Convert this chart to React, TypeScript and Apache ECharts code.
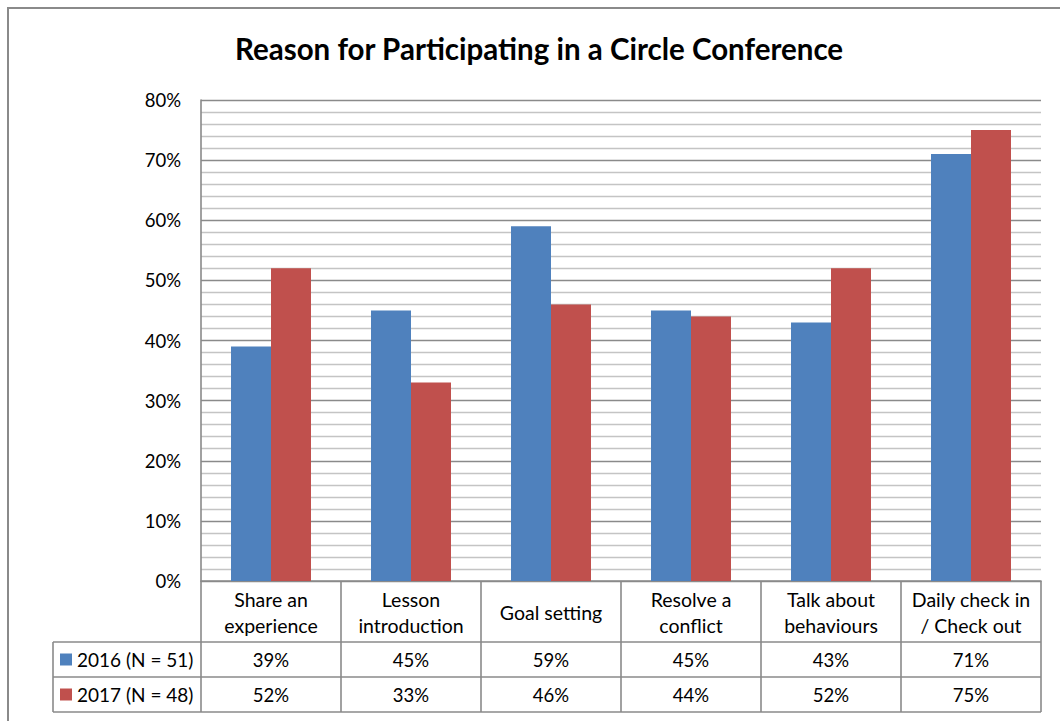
import React, { useEffect, useRef } from "react";
import * as echarts from "echarts";

const chartTitle = "Reason for Participating in a Circle Conference";
const categories = [
  "Share an\nexperience",
  "Lesson\nintroduction",
  "Goal setting",
  "Resolve a\nconflict",
  "Talk about\nbehaviours",
  "Daily check in\n/ Check out",
];
const seriesNames = ["2016 (N = 51)", "2017 (N = 48)"];
const values2016 = [39, 45, 59, 45, 43, 71];
const values2017 = [52, 33, 46, 44, 52, 75];
const colors = ["#4F81BD", "#C0504D"];

const W = 1060;
const H = 721;
const FONT = "Lato, Carlito, Calibri, 'Open Sans', sans-serif";

export default function App() {
  const ref = useRef<HTMLDivElement>(null);
  useEffect(() => {
    document.body.style.margin = "0";
    if (!ref.current) return;
    const chart = echarts.init(ref.current, undefined, { renderer: "svg" });

    const gridLeft = 201;
    const gridRight = 1041;
    const gridTop = 100;
    const gridBottom = 581;
    const rowLine1 = 642;
    const rowLine2 = 677;
    const rowLine3 = 712;
    const legendLeft = 53;
    const colW = (gridRight - gridLeft) / categories.length;
    const lineColor = "#8a8a8a";
    const lineW = 1.6;

    const graphics: any[] = [];
    graphics.push({
      type: "rect",
      shape: { x: 8, y: 8, width: 1200, height: 900 },
      style: { fill: "none", stroke: "#8a8a8a", lineWidth: 2 },
      silent: true,
    });
    [rowLine1, rowLine2, rowLine3].forEach((y) => {
      graphics.push({
        type: "line",
        shape: { x1: legendLeft, y1: y, x2: gridRight, y2: y },
        style: { stroke: lineColor, lineWidth: lineW },
        silent: true,
      });
    });
    for (let k = 0; k <= categories.length; k++) {
      const x = gridLeft + k * colW;
      graphics.push({
        type: "line",
        shape: { x1: x, y1: gridBottom, x2: x, y2: rowLine3 },
        style: { stroke: lineColor, lineWidth: lineW },
        silent: true,
      });
    }
    graphics.push({
      type: "line",
      shape: { x1: legendLeft, y1: rowLine1, x2: legendLeft, y2: rowLine3 },
      style: { stroke: lineColor, lineWidth: lineW },
      silent: true,
    });
    const rows = [values2016, values2017];
    const rowTops = [rowLine1, rowLine2];
    rows.forEach((vals, r) => {
      const cy = (rowTops[r] + (r === 0 ? rowLine2 : rowLine3)) / 2;
      graphics.push({
        type: "rect",
        shape: { x: 60, y: cy - 6, width: 12, height: 12 },
        style: { fill: colors[r] },
        silent: true,
      });
      graphics.push({
        type: "text",
        x: 77,
        y: cy,
        style: {
          text: seriesNames[r],
          font: `19px ${FONT}`,
          fill: "#000",
          textAlign: "left",
          textVerticalAlign: "middle",
        },
        silent: true,
      });
      vals.forEach((v, i) => {
        graphics.push({
          type: "text",
          x: gridLeft + (i + 0.5) * colW,
          y: cy,
          style: {
            text: `${v}%`,
            font: `18.5px ${FONT}`,
            fill: "#000",
            textAlign: "center",
            textVerticalAlign: "middle",
          },
          silent: true,
        });
      });
    });

    chart.setOption({
      animation: false,
      backgroundColor: "#fff",
      title: {
        text: chartTitle,
        left: 230,
        top: 28,
        textStyle: {
          fontFamily: FONT,
          fontSize: 29.5,
          fontWeight: "bold",
          color: "#000",
        },
      },
      grid: {
        left: gridLeft,
        right: W - gridRight,
        top: gridTop,
        bottom: H - gridBottom,
        containLabel: false,
      },
      xAxis: {
        type: "category",
        data: categories,
        axisLine: { show: true, lineStyle: { color: lineColor, width: lineW } },
        axisTick: { show: false },
        axisLabel: {
          interval: 0,
          margin: 31,
          verticalAlign: "middle",
          align: "center",
          fontFamily: FONT,
          fontSize: 19.5,
          lineHeight: 26,
          color: "#000",
        },
      },
      yAxis: {
        type: "value",
        min: 0,
        max: 80,
        interval: 10,
        axisLine: { show: true, lineStyle: { color: lineColor, width: lineW } },
        axisTick: { show: false },
        minorTick: { show: false, splitNumber: 5 },
        minorSplitLine: { show: true, lineStyle: { color: "#c4c4c4", width: 1.3 } },
        splitLine: { show: true, lineStyle: { color: lineColor, width: 1.3 } },
        axisLabel: {
          formatter: "{value}%",
          margin: 20,
          fontFamily: FONT,
          fontSize: 18.5,
          color: "#000",
        },
      },
      series: [
        {
          name: seriesNames[0],
          type: "bar",
          data: values2016,
          itemStyle: { color: colors[0] },
          barGap: "0%",
          barCategoryGap: "42.86%",
        },
        {
          name: seriesNames[1],
          type: "bar",
          data: values2017,
          itemStyle: { color: colors[1] },
          barGap: "0%",
          barCategoryGap: "42.86%",
        },
      ],
      graphic: graphics,
    });
    return () => chart.dispose();
  }, []);
  return (
    <div
      ref={ref}
      style={{ position: "absolute", left: 0, top: 0, width: W, height: H }}
    />
  );
}
